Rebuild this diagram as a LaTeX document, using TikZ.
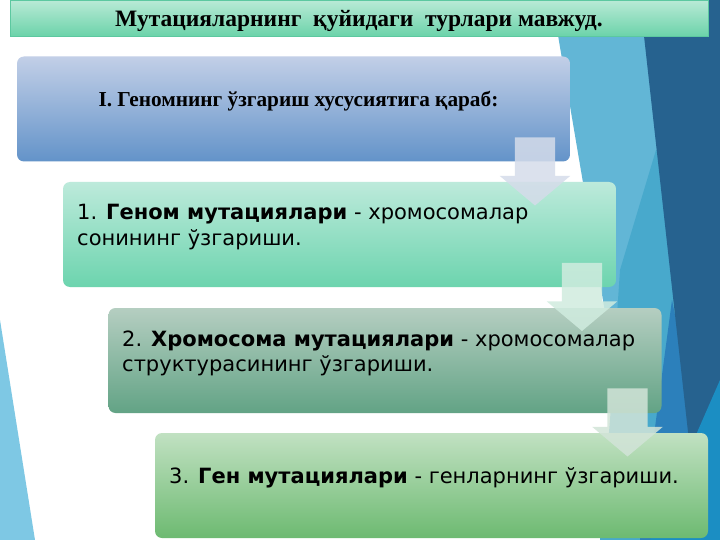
\documentclass[tikz,border=0pt]{standalone}
\usepackage{fontspec}
\usetikzlibrary{shapes.arrows}
\newfontfamily\dejavu{DejaVu Sans}
\newfontfamily\tnr{Liberation Serif}
\definecolor{bglight}{HTML}{62B6D6}
\definecolor{bgmid}{HTML}{48A9CC}
\definecolor{bgdark}{HTML}{26628F}
\definecolor{bgmd}{HTML}{2C80BB}
\definecolor{bgbright}{HTML}{1B8EC3}
\definecolor{bgleft}{HTML}{7EC8E4}
\definecolor{ttop}{HTML}{B9EAD6}
\definecolor{tbot}{HTML}{6CD3AA}
\definecolor{tline}{HTML}{5CC8A0}
\definecolor{itop}{HTML}{C2CFE7}
\definecolor{ibot}{HTML}{6393C9}
\definecolor{atop}{HTML}{BDEADB}
\definecolor{abot}{HTML}{6CD4AE}
\definecolor{btop}{HTML}{B5CEC1}
\definecolor{bbot}{HTML}{62A385}
\definecolor{ctop}{HTML}{C1E1C2}
\definecolor{cbot}{HTML}{6DBA71}
\definecolor{arA}{HTML}{D5DCEA}
\definecolor{arB}{HTML}{D0ECDF}
\definecolor{arC}{HTML}{D2E4D8}
\tikzset{
  stepbox/.style={rectangle, rounded corners=7pt, minimum width=553pt, minimum height=105pt, inner sep=0pt},
  downarrow/.style={single arrow, rotate=-90, inner xsep=0pt, inner ysep=20pt, single arrow head extend=15pt, single arrow tip angle=100, minimum height=68pt, opacity=0.85},
  bodytext/.style={anchor=base west, inner sep=0pt, font=\dejavu\fontsize{21}{25}\selectfont},
}
\begin{document}
\begin{tikzpicture}[x=1pt,y=-1pt]
\useasboundingbox (0,0) rectangle (720,540);
\fill[white] (0,0) rectangle (720,540);
% background
\fill[bgleft] (0,320) -- (35,540) -- (0,540) -- cycle;
\fill[bglight] (552,0) -- (642,0) -- (700,540) -- (640,540) -- (625,430) -- cycle;
\fill[bgmid] (656,150) -- (620,270) -- (610,420) -- (600,540) -- (720,540) -- (720,150) -- cycle;
\fill[bgmd] (672,300) -- (720,540) -- (640,540) -- cycle;
\fill[bgdark] (640,0) -- (720,0) -- (720,540) -- (700,540) -- cycle;
\fill[bgbright] (720,380) -- (720,540) -- (650,540) -- cycle;
% title
\node[rectangle, draw=tline, line width=0.8pt, top color=ttop, bottom color=tbot, minimum width=698pt, minimum height=36pt, inner sep=0pt] (title) at (359,18) {};
\node[anchor=base, inner sep=0pt, font=\tnr\bfseries\fontsize{23.5}{27}\selectfont] (titletext) at (359,27) {Мутацияларнинг\ \ қуйидаги\ \ турлари мавжуд.};
% boxes
\node[stepbox, top color=itop, bottom color=ibot] (bI) at (293.5,109) {};
\node[stepbox, top color=atop, bottom color=abot] (b1) at (339.5,234.5) {};
\node[stepbox, top color=btop, bottom color=bbot] (b2) at (385,360.5) {};
\node[stepbox, top color=ctop, bottom color=cbot] (b3) at (431.5,485.5) {};
% texts
\node[anchor=base, inner sep=0pt, font=\tnr\bfseries\fontsize{21.3}{25}\selectfont] (tI) at (298.5,107) {I. Геномнинг ўзгариш хусусиятига қараб:};
\node[bodytext] (t1a) at (77,220) {1. \textbf{Геном мутациялари} - хромосомалар};
\node[bodytext] (t1b) at (77,245) {сонининг ўзгариши.};
\node[bodytext] (t2a) at (122,346) {2. \textbf{Хромосома мутациялари} - хромосомалар};
\node[bodytext] (t2b) at (122,371) {структурасининг ўзгариши.};
\node[bodytext] (t3a) at (169,483) {3. \textbf{Ген мутациялари} - генларнинг ўзгариши.};
% arrows
\node[downarrow, fill=arA] (a1) at (535,163) {};
\node[downarrow, fill=arB] (a2) at (582,288.5) {};
\node[downarrow, fill=arC] (a3) at (627.5,414) {};
\end{tikzpicture}
\end{document}
